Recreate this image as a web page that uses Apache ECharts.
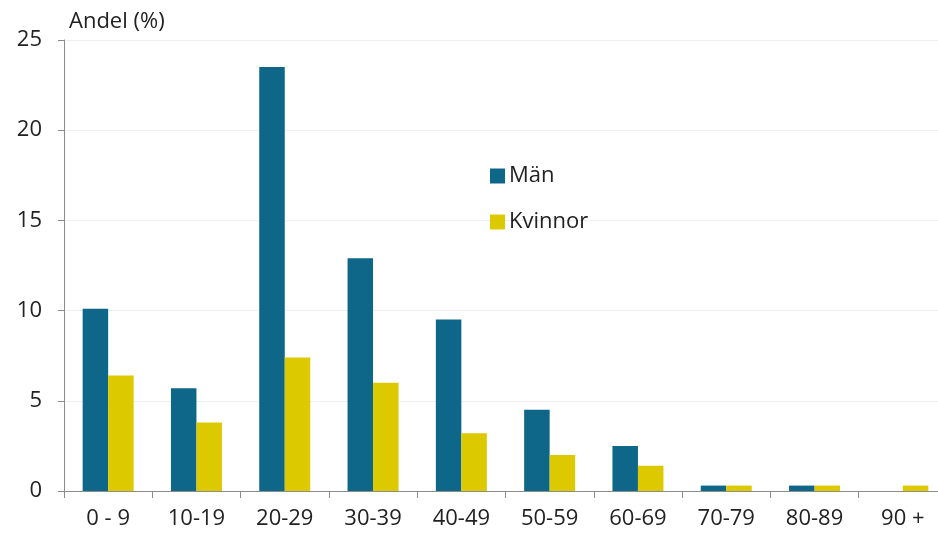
<!DOCTYPE html>
<html><head><meta charset="utf-8">
<script src="https://cdn.jsdelivr.net/npm/echarts@6/dist/echarts.min.js"></script>
<style>html,body{margin:0;padding:0;background:#fff;overflow:hidden}#c{width:947px;height:537px}</style>
</head><body><div id="c"></div>
<script>
var categories = ['0 - 9','10-19','20-29','30-39','40-49','50-59','60-69','70-79','80-89','90 +'];
var man = [10.1, 5.7, 23.5, 12.9, 9.5, 4.5, 2.5, 0.3, 0.3, 0];
var kvinnor = [6.4, 3.8, 7.4, 6.0, 3.2, 2.0, 1.4, 0.3, 0.3, 0.3];
var yTicks = [0, 5, 10, 15, 20, 25];
var font = '"Open Sans", "Noto Sans", sans-serif';
var chart = echarts.init(document.getElementById('c'));
chart.setOption({
  animation: false,
  title: { text: 'Andel (%)', left: 64, top: 6, textStyle: { fontFamily: font, fontSize: 22, fontWeight: 'normal', color: '#222' } },
  legend: {
    orient: 'vertical', left: 485, top: 160, itemWidth: 15, itemHeight: 15, itemGap: 24,
    icon: 'rect',
    textStyle: { fontFamily: font, fontSize: 22, color: '#222', padding: [0,0,0,-1] },
    data: ['Män', 'Kvinnor']
  },
  grid: { left: 64, right: 0, top: 40, bottom: 46, containLabel: false },
  xAxis: {
    type: 'category', data: categories,
    axisLine: { lineStyle: { color: '#8c8c8c', width: 1 } },
    axisTick: { show: true, length: 7, lineStyle: { color: '#8c8c8c' } },
    axisLabel: { fontFamily: font, fontSize: 22, color: '#222', margin: 17 }
  },
  yAxis: {
    type: 'value', min: yTicks[0], max: yTicks[yTicks.length-1], interval: 5,
    axisLine: { show: true, lineStyle: { color: '#8c8c8c' } },
    axisTick: { show: true, length: 6, lineStyle: { color: '#8c8c8c' } },
    axisLabel: { fontFamily: font, fontSize: 22, color: '#222', margin: 22 },
    splitLine: { lineStyle: { color: '#efefef' } }
  },
  series: [
    { name: 'Män', type: 'bar', data: man, barWidth: 25.5, barGap: '0%', itemStyle: { color: '#0e6688' } },
    { name: 'Kvinnor', type: 'bar', data: kvinnor, barWidth: 25.5, barGap: '0%', itemStyle: { color: '#ddc900' } }
  ]
});
</script></body></html>
